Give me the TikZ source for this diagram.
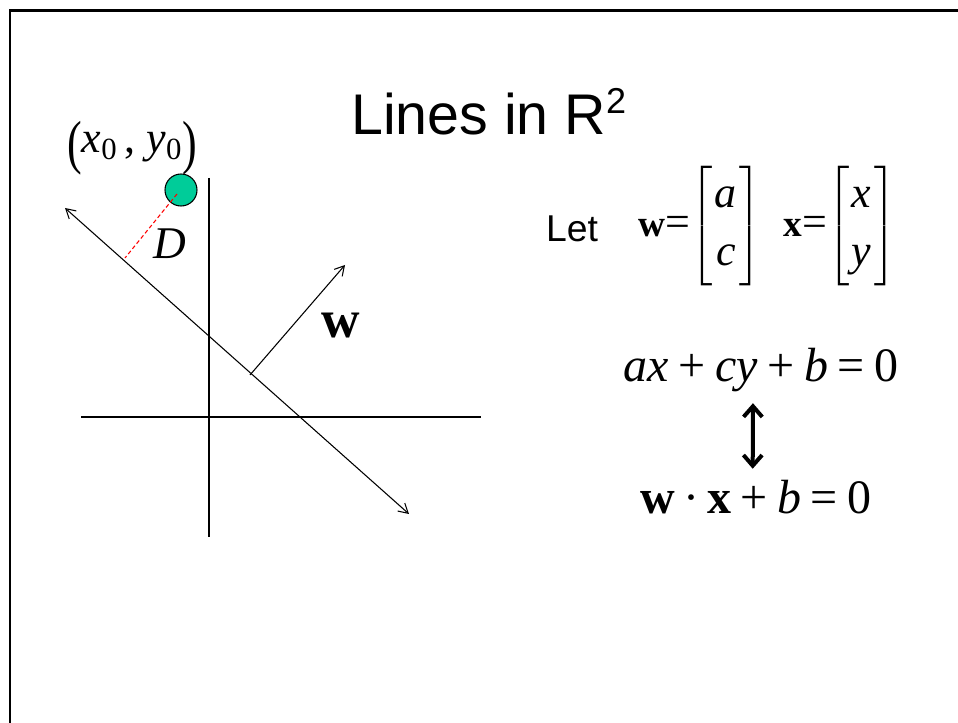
\documentclass[tikz,border=0pt]{standalone}
\usepackage{fix-cm}
\usepackage{amsmath}
\usepackage{fontspec}
\setmainfont{Liberation Serif}
\newfontfamily\arialfont{Liberation Sans}
\usepackage{tikz}
\usetikzlibrary{arrows.meta,positioning}
\definecolor{dotgreen}{RGB}{0,204,153}
\newcommand{\vi}[1]{\textit{#1}}
\newcommand{\vb}[1]{\textbf{#1}}
\newcommand{\tallparen}[1]{\raisebox{-0.22em}{\scalebox{1}[1.35]{#1}}}
\newcommand{\smallbold}[1]{{\fontsize{28}{30}\selectfont\vb{#1}}}
\newcommand{\opsp}{\hspace{0.2em}}

\tikzset{
  axis/.style={line width=0.8pt},
  barb/.style={line width=0.8pt, -{Straight Barb[length=7pt,width=8pt]}},
  sans/.style={font=\arialfont},
}

\begin{document}
\begin{tikzpicture}[x=0.75pt,y=-0.75pt]
            \useasboundingbox (0,0) rectangle (958,723);
            % slide border
            \draw[line width=2pt] (10,723) -- (10,10.5) -- (958,10.5);

            \node[sans, font=\arialfont\fontsize{43}{48}\selectfont] (title) at (489,112) {Lines in R\textsuperscript{\fontsize{27}{30}\selectfont 2}};

            % axes
            \coordinate (ytop) at (209,178);
            \coordinate (ybot) at (209,537);
            \coordinate (xleft) at (81,417);
            \coordinate (xright) at (481,417);
            \draw[axis] (ytop) -- (ybot);
            \draw[axis] (xleft) -- (xright);

            % the line and its normal
            \coordinate (lineA) at (65,208);
            \coordinate (lineB) at (409,514);
            \draw[line width=0.8pt, {Straight Barb[length=7pt,width=8pt]}-{Straight Barb[length=7pt,width=8pt]}] (lineA) -- (lineB);
            \coordinate (wfoot) at (250,375);
            \coordinate (wtip) at (345,265);
            \draw[barb] (wfoot) -- (wtip);
            \node[font=\fontsize{40}{44}\selectfont] (wlab) at (341,326) {\vb{w}};

            % point and distance
            \coordinate (foot) at (125,258);
            \node[circle, draw, line width=0.8pt, fill=dotgreen, minimum size=24, inner sep=0pt] (pt) at (181,190) {};
            \draw[red, densely dashed, line width=0.8pt] ([shift={(-3pt,-3pt)}]pt.center) -- (foot);
            \node[font=\fontsize{34}{40}\selectfont] (dlab) at (170,244) {\vi{D}};
            \node[font=\fontsize{33}{36}\selectfont, inner sep=0pt] (ptlab) at (132,148) {\tallparen{(}\vi{x}\textsubscript{0}\,, \vi{y}\textsubscript{0}\tallparen{)}};

            \node[sans, font=\arialfont\fontsize{28}{34}\selectfont] (let) at (572,229) {Let};
            \node[font=\fontsize{33}{40}\selectfont, inner sep=0pt] (wdef) at (700,226) {\smallbold{w}=$\setlength{\arraycolsep}{2pt}\left[\begin{array}{c}\vi{a}\\[4pt]\vi{c}\end{array}\right]$};
            \node[font=\fontsize{33}{40}\selectfont, inner sep=0pt] (xdef) at (840,226) {\smallbold{x}=$\setlength{\arraycolsep}{2pt}\left[\begin{array}{c}\vi{x}\\[4pt]\vi{y}\end{array}\right]$};

            \node[font=\fontsize{36}{42}\selectfont] (eqa) at (761,370) {\vi{ax}\opsp+\opsp\vi{cy}\opsp+\opsp\vi{b}\opsp=\opsp0};
            \node[font=\fontsize{36}{42}\selectfont] (eqb) at (756,497) {\vb{w}\,\textperiodcentered\,\vb{x}\opsp+\opsp\vi{b}\opsp=\opsp0};
            \draw[line width=3pt, shorten <=5pt, shorten >=5pt, {Straight Barb[length=8pt,width=14pt]}-{Straight Barb[length=8pt,width=14pt]}] ([xshift=-6pt]eqa.south) -- ([xshift=-2.5pt]eqb.north);
            \end{tikzpicture}
\end{document}
